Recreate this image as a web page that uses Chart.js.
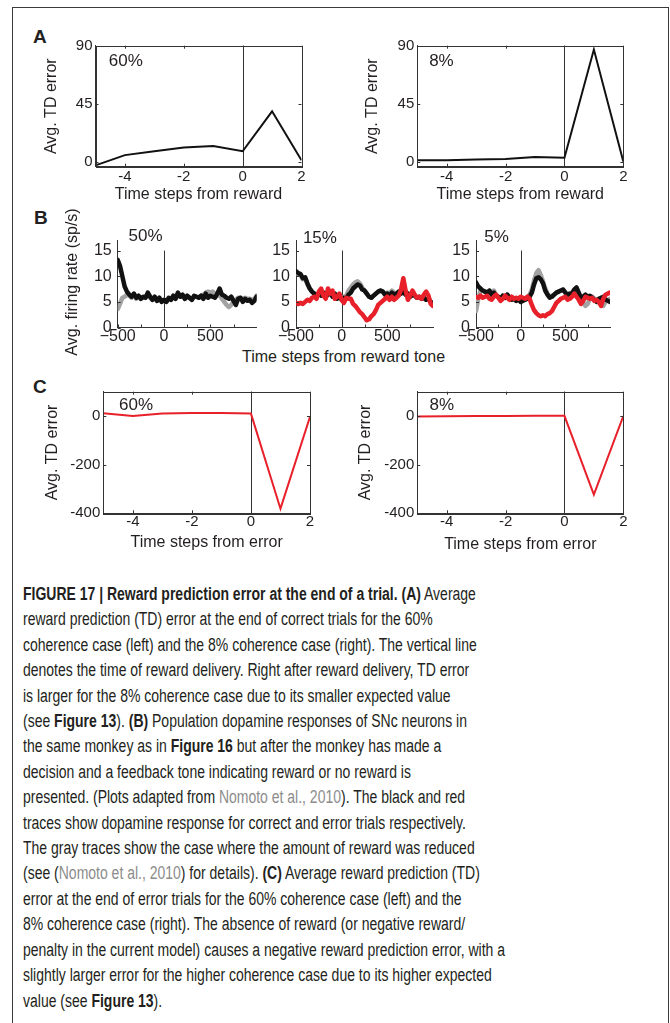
<!DOCTYPE html>
<html>
<head>
<meta charset="utf-8">
<script src="https://cdn.jsdelivr.net/npm/chart.js@4.4.1/dist/chart.umd.min.js"></script>
<style>
    html, body { margin: 0; padding: 0; background: #fff; }
    body { width: 670px; height: 1023px; position: relative; overflow: hidden; font-family: "Liberation Sans", Arial, sans-serif; color: #231f20; }
    .frame { position: absolute; left: 12px; top: 7px; width: 655px; height: 1100px; border: 1px solid #3a3a3a; border-bottom: none; }
    canvas { position: absolute; }
    .letter { position: absolute; font-weight: bold; font-size: 19px; line-height: 19px; }
    .axis-note { position: absolute; font-size: 16px; line-height: 18px; text-align: center; white-space: nowrap; }
    .axis-note.rot { transform: rotate(-90deg); transform-origin: 50% 50%; }
    #caption { position: absolute; left: 23px; top: 582px; transform-origin: 0 0; font-family: "Liberation Sans", Arial, sans-serif; font-size: 18px; line-height: 25.4px; color: #231f20; }
    #caption div { white-space: nowrap; width: max-content; }
    #caption b { font-weight: bold; }
    #caption .ref { color: #8c8c8c; }
</style>
</head>
<body>
<div class="frame"></div>

<div class="letter" style="left:33px;top:27px;">A</div>
<div class="letter" style="left:34px;top:208px;">B</div>
<div class="letter" style="left:33px;top:377px;">C</div>

<canvas id="tdCorrect60"></canvas>
<canvas id="tdCorrect8"></canvas>
<canvas id="dopa50"></canvas>
<canvas id="dopa15"></canvas>
<canvas id="dopa5"></canvas>
<canvas id="tdError60"></canvas>
<canvas id="tdError8"></canvas>

<div class="axis-note rot" style="left:-18px;top:273px;width:180px;">Avg. firing rate (sp/s)</div>
<div class="axis-note" style="left:242px;top:348px;width:200px;">Time steps from reward tone</div>

<div id="caption">
    <div><b>FIGURE 17 | Reward prediction error at the end of a trial. (A)</b> Average</div>
    <div>reward prediction (TD) error at the end of correct trials for the 60%</div>
    <div>coherence case (left) and the 8% coherence case (right). The vertical line</div>
    <div>denotes the time of reward delivery. Right after reward delivery, TD error</div>
    <div>is larger for the 8% coherence case due to its smaller expected value</div>
    <div>(see <b>Figure 13</b>). <b>(B)</b> Population dopamine responses of SNc neurons in</div>
    <div>the same monkey as in <b>Figure 16</b> but after the monkey has made a</div>
    <div>decision and a feedback tone indicating reward or no reward is</div>
    <div>presented. (Plots adapted from <span class="ref">Nomoto et al., 2010</span>). The black and red</div>
    <div>traces show dopamine response for correct and error trials respectively.</div>
    <div>The gray traces show the case where the amount of reward was reduced</div>
    <div>(see (<span class="ref">Nomoto et al., 2010</span>) for details). <b>(C)</b> Average reward prediction (TD)</div>
    <div>error at the end of error trials for the 60% coherence case (left) and the</div>
    <div>8% coherence case (right). The absence of reward (or negative reward/</div>
    <div id="widestLine">penalty in the current model) causes a negative reward prediction error, with a</div>
    <div>slightly larger error for the higher coherence case due to its higher expected</div>
    <div>value (see <b>Figure 13</b>).</div>
</div>

<script>
    // model TD error, time steps around reward / error
    const tdSteps = [-5, -4, -3, -2, -1, 0, 1, 2];
    const tdCorrect60 = [-3, 5, 8, 11, 12, 8, 39, 1];
    const tdCorrect8 = [1, 1, 1.5, 2, 3.5, 3, 87, 0];
    const tdError60 = [11, 0, 10, 12, 12, 10, -381, -3];
    const tdError8 = [-2, -1, 0, 0, 1, 1, -323, 0];

    const tdTicksX = [-4, -2, 0, 2];
    const tdTicksYCorrect = [0, 45, 90];
    const tdTicksYError = [-400, -200, 0];

    // dopamine firing rate (sp/s), time steps from reward tone
    const toneTime = [
        -500, -475, -450, -425, -400, -375, -350, -325, -300, -275,
        -250, -225, -200, -175, -150, -125, -100, -75, -50, -25,
        0, 25, 50, 75, 100, 125, 150, 175, 200, 225,
        250, 275, 300, 325, 350, 375, 400, 425, 450, 475,
        500, 525, 550, 575, 600, 625, 650, 675, 700, 725,
        750, 775, 800, 825, 850, 875, 900, 925, 950, 975,
        1000
    ];
    const coh50Correct = [
        13.2, 12.0, 10.0, 8.0, 7.0, 6.4, 6.0, 6.6, 5.8, 6.2,
        5.6, 6.0, 5.8, 6.8, 6.0, 5.4, 6.0, 5.2, 5.8, 5.0,
        5.4, 5.0, 5.8, 5.4, 6.2, 5.6, 6.8, 6.0, 6.4, 5.6,
        6.2, 5.8, 5.4, 6.2, 6.0, 5.8, 6.2, 5.6, 6.6, 5.8,
        6.2, 6.0, 5.8, 6.6, 7.6, 6.4, 6.2, 5.8, 5.6, 6.0,
        5.2, 4.4, 5.6, 5.8, 5.0, 5.6, 5.2, 5.4, 4.8, 5.2,
        6.0
    ];
    const coh50Reduced = [
        3.6, 4.6, 5.8, 6.0, 6.4, 6.2, 5.8, 6.4, 5.6, 6.0,
        5.6, 5.8, 5.8, 6.6, 5.8, 5.4, 5.8, 5.2, 5.6, 5.0,
        5.4, 5.0, 5.6, 5.4, 6.0, 5.6, 6.6, 6.0, 6.2, 5.6,
        6.0, 5.8, 5.4, 6.0, 6.0, 5.8, 6.2, 6.4, 6.8, 7.0,
        6.8, 7.0, 6.6, 6.2, 6.4, 5.6, 5.0, 4.4, 4.0, 4.4,
        5.0, 5.4, 5.8, 5.8, 5.6, 5.8, 5.6, 5.6, 5.4, 5.6,
        6.2
    ];
    const coh15Correct = [
        11.0, 10.6, 10.4, 9.6, 9.8, 8.6, 7.6, 7.0, 6.6, 6.4,
        6.6, 6.2, 6.8, 6.0, 6.4, 6.8, 6.0, 6.6, 5.6, 6.2,
        5.4, 5.8, 5.6, 6.4, 6.8, 7.6, 8.0, 8.4, 8.2, 7.4,
        7.2, 6.6, 6.0, 5.8, 6.2, 6.6, 7.0, 7.2, 7.0, 6.4,
        6.6, 6.2, 6.8, 6.4, 6.6, 7.0, 6.6, 7.0, 6.4, 6.6,
        6.0, 6.4, 6.2, 5.8, 6.0, 5.6, 5.8, 5.4, 5.6, 5.0,
        4.8
    ];
    const coh15Reduced = [
        10.8, 10.4, 10.2, 9.4, 9.6, 8.4, 7.6, 7.0, 6.6, 6.4,
        6.6, 6.2, 6.8, 6.0, 6.4, 6.8, 6.0, 6.6, 5.6, 6.2,
        5.6, 6.0, 6.2, 7.2, 7.8, 8.4, 8.8, 9.0, 8.6, 7.8,
        7.2, 6.6, 6.0, 5.8, 6.2, 6.6, 7.0, 7.2, 7.0, 6.4,
        6.8, 6.6, 7.2, 6.8, 6.6, 7.0, 6.6, 7.0, 6.4, 6.6,
        6.0, 6.4, 6.2, 5.8, 6.0, 5.6, 5.8, 5.4, 5.6, 5.0,
        4.8
    ];
    const coh15Error = [
        4.8, 4.6, 4.8, 4.6, 5.0, 5.4, 5.2, 5.8, 6.0, 5.6,
        7.0, 7.6, 6.2, 5.6, 7.6, 6.6, 7.2, 5.6, 6.0, 6.6,
        5.4, 4.8, 5.8, 5.6, 5.6, 4.6, 4.2, 3.6, 3.0, 2.6,
        2.0, 1.4, 1.6, 2.2, 2.6, 3.4, 4.4, 4.8, 5.2, 5.6,
        6.0, 5.4, 6.0, 5.4, 5.8, 6.2, 7.4, 9.6, 7.2, 5.4,
        6.2, 7.2, 6.4, 5.8, 6.0, 5.6, 6.4, 7.0, 6.2, 4.6,
        4.2
    ];
    const coh5Correct = [
        8.8, 8.0, 7.6, 7.2, 7.0, 6.8, 7.2, 6.4, 6.8, 6.2,
        6.0, 5.6, 6.2, 5.8, 6.4, 5.8, 5.4, 5.6, 5.2, 5.6,
        5.0, 5.2, 5.4, 5.6, 6.0, 6.8, 8.4, 9.6, 9.8, 9.4,
        8.6, 7.2, 6.4, 5.8, 6.0, 6.4, 6.8, 7.0, 7.2, 7.4,
        6.8, 6.4, 6.6, 6.6, 7.4, 7.8, 6.8, 5.8, 6.0, 6.4,
        6.0, 6.2, 5.8, 5.4, 5.0, 5.6, 5.8, 6.0, 5.4, 5.2,
        5.0
    ];
    const coh5Reduced = [
        3.2, 5.6, 7.2, 7.2, 7.0, 6.8, 7.2, 6.6, 7.2, 6.2,
        6.0, 5.6, 6.2, 5.8, 6.4, 5.8, 5.4, 5.6, 5.2, 5.6,
        5.0, 5.2, 5.4, 5.8, 6.4, 7.4, 9.2, 10.6, 11.2, 10.2,
        9.0, 7.6, 6.6, 6.0, 6.2, 6.4, 6.8, 7.0, 7.2, 7.4,
        6.8, 6.4, 6.6, 6.8, 7.4, 7.6, 6.4, 5.4, 4.8, 4.2,
        4.6, 5.6, 6.0, 5.6, 5.4, 5.0, 4.4, 4.2, 5.0, 5.4,
        5.6
    ];
    const coh5Error = [
        6.0, 5.8, 6.2, 5.8, 6.0, 6.2, 5.6, 5.4, 6.0, 6.4,
        5.8, 5.2, 5.6, 6.2, 5.8, 5.4, 6.0, 5.6, 5.8, 5.6,
        6.0, 5.8, 5.6, 6.0, 5.6, 4.4, 3.4, 2.8, 2.4, 2.2,
        2.4, 2.2, 2.6, 2.8, 3.2, 4.0, 4.8, 5.2, 5.6, 5.8,
        6.0, 5.4, 5.6, 6.0, 6.6, 6.0, 5.4, 4.6, 5.2, 6.0,
        5.8, 5.6, 5.8, 5.2, 5.4, 5.0, 4.2, 5.6, 6.4, 6.6,
        6.8
    ];

    const toneTicksX = [-500, -250, 0, 250, 500, 750];
    const toneLabelsX = [-500, 0, 500];
    const toneTicksY = [0, 5, 10, 15];

    const INK = '#231f20';
    const AXIS = '#333333';
    const GRAY = '#a3a3a3';
    const RED = '#e8202a';

    Chart.defaults.font.family = '"Liberation Sans", Arial, sans-serif';
    Chart.defaults.color = INK;

    const pairs = (xs, ys) => xs.map((x, i) => ({ x, y: ys[i] }));

    // matlab-ish decorations: inward ticks, closed box, reference line, corner label
    const panelDecor = {
        id: 'panelDecor',
        beforeDatasetsDraw(chart, args, o) {
            if (o.zeroTop === undefined) return;
            const { ctx, chartArea: a, scales: { x, y } } = chart;
            const px = Math.round(x.getPixelForValue(0)) + 0.5;
            ctx.save();
            ctx.strokeStyle = AXIS;
            ctx.lineWidth = 1;
            ctx.beginPath();
            ctx.moveTo(px, a.bottom);
            ctx.lineTo(px, o.zeroTop === null ? a.top : y.getPixelForValue(o.zeroTop));
            ctx.stroke();
            ctx.restore();
        },
        afterDraw(chart, args, o) {
            const { ctx, chartArea: a, scales: { x, y } } = chart;
            const len = o.tickLen || 3;
            ctx.save();
            ctx.strokeStyle = AXIS;
            ctx.lineWidth = 1;
            if (o.box) ctx.strokeRect(Math.round(a.left) + 0.5, Math.round(a.top) + 0.5, Math.round(a.right - a.left), Math.round(a.bottom - a.top));
            ctx.beginPath();
            (o.xTicks || []).forEach((v) => {
                const px = Math.round(x.getPixelForValue(v)) + 0.5;
                ctx.moveTo(px, a.bottom); ctx.lineTo(px, a.bottom - len);
                if (o.box) { ctx.moveTo(px, a.top); ctx.lineTo(px, a.top + len); }
            });
            (o.yTicks || []).forEach((v) => {
                const py = Math.round(y.getPixelForValue(v)) + 0.5;
                ctx.moveTo(a.left, py); ctx.lineTo(a.left + len, py);
                if (o.box) { ctx.moveTo(a.right, py); ctx.lineTo(a.right - len, py); }
            });
            ctx.stroke();
            if (o.label) {
                ctx.fillStyle = INK;
                ctx.font = '17px "Liberation Sans", Arial, sans-serif';
                ctx.textAlign = 'center';
                ctx.textBaseline = 'middle';
                ctx.fillText(o.label.text, x.getPixelForValue(o.label.x), y.getPixelForValue(o.label.y));
            }
            ctx.restore();
        }
    };

    function makePanel(id, cfg) {
        const canvas = document.getElementById(id);
        const { box, plot } = cfg;
        canvas.style.left = box.x + 'px';
        canvas.style.top = box.y + 'px';
        canvas.width = box.w;
        canvas.height = box.h;
        canvas.style.width = box.w + 'px';
        canvas.style.height = box.h + 'px';
        const yWidth = plot.l - box.x;
        const xHeight = box.y + box.h - plot.b;
        const xTitle = cfg.xTitle ? { display: true, text: cfg.xTitle.text, font: { size: 16 }, color: INK, padding: { top: 0, bottom: cfg.xTitle.pad } } : { display: false };
        const yTitle = cfg.yTitle ? { display: true, text: cfg.yTitle.text, font: { size: 16 }, color: INK, padding: { top: cfg.yTitle.pad, bottom: 0 } } : { display: false };
        return new Chart(canvas, {
            type: 'line',
            data: { datasets: cfg.datasets },
            options: {
                responsive: false,
                animation: false,
                devicePixelRatio: 1,
                layout: { padding: { left: 0, top: plot.t - box.y, right: box.x + box.w - plot.r, bottom: 0 } },
                elements: { point: { radius: 0 }, line: { tension: 0 } },
                plugins: { legend: { display: false }, tooltip: { enabled: false }, panelDecor: cfg.decor },
                scales: {
                    x: {
                        type: 'linear', min: cfg.xRange[0], max: cfg.xRange[1],
                        afterFit: (s) => { s.height = xHeight; },
                        afterBuildTicks: (s) => { s.ticks = cfg.xTicks.map((value) => ({ value })); },
                        grid: { display: false, drawTicks: false },
                        border: { display: true, color: AXIS, width: 1 },
                        ticks: { autoSkip: false, maxRotation: 0, padding: cfg.xPad, font: { size: cfg.tickSize, lineHeight: 1.05 }, color: INK, callback: cfg.xLabel },
                        title: xTitle
                    },
                    y: {
                        type: 'linear', min: cfg.yRange[0], max: cfg.yRange[1],
                        afterFit: (s) => { s.width = yWidth; },
                        afterBuildTicks: (s) => { s.ticks = cfg.yTicks.map((value) => ({ value })); },
                        grid: { display: false, drawTicks: false },
                        border: { display: true, color: AXIS, width: 1 },
                        ticks: { autoSkip: false, padding: cfg.yPad, font: { size: cfg.tickSize }, color: INK, callback: (v) => String(v).replace('-', cfg.minus) },
                        title: yTitle
                    }
                }
            },
            plugins: [panelDecor]
        });
    }

    // chart.js paints dataset 0 last, so the list goes top trace first
    const tdLine = (values, color) => ({ data: pairs(tdSteps, values), borderColor: color, borderWidth: 2, fill: false });
    const toneLine = (values, color) => ({ data: pairs(toneTime, values), borderColor: color, borderWidth: 4.5, borderJoinStyle: 'round', borderCapStyle: 'round', fill: false });
    const tdXLabel = (v) => String(v);
    const toneXLabel = (v) => (toneLabelsX.includes(v) ? String(v).replace('-', '\u2212') : '');

    // (A) correct trials
    makePanel('tdCorrect60', {
        box: { x: 30, y: 30, w: 290, h: 175 }, plot: { l: 95.5, t: 45.7, r: 301.5, b: 166.7 },
        xRange: [-5, 2], yRange: [-4, 90], xTicks: tdTicksX, yTicks: tdTicksYCorrect,
        tickSize: 15, xPad: 2, yPad: 3, minus: '-', xLabel: tdXLabel,
        xTitle: { text: 'Time steps from reward', pad: 1 }, yTitle: { text: 'Avg. TD error', pad: 12 },
        datasets: [tdLine(tdCorrect60, '#111111')],
        decor: { box: true, zeroTop: null, xTicks: tdTicksX, yTicks: tdTicksYCorrect, label: { text: '60%', x: -3.97, y: 77.6 } }
    });
    makePanel('tdCorrect8', {
        box: { x: 352, y: 30, w: 290, h: 175 }, plot: { l: 417.3, t: 45.7, r: 623.3, b: 166.7 },
        xRange: [-5, 2], yRange: [-4, 90], xTicks: tdTicksX, yTicks: tdTicksYCorrect,
        tickSize: 15, xPad: 2, yPad: 3, minus: '-', xLabel: tdXLabel,
        xTitle: { text: 'Time steps from reward', pad: 1 }, yTitle: { text: 'Avg. TD error', pad: 11 },
        datasets: [tdLine(tdCorrect8, '#111111')],
        decor: { box: true, zeroTop: null, xTicks: tdTicksX, yTicks: tdTicksYCorrect, label: { text: '8%', x: -4.18, y: 77.6 } }
    });

    // (B) dopamine responses
    makePanel('dopa50', {
        box: { x: 55, y: 220, w: 207, h: 125 }, plot: { l: 117.7, t: 240.3, r: 256.7, b: 327.5 },
        xRange: [-500, 1000], yRange: [0, 17], xTicks: toneTicksX, yTicks: toneTicksY,
        tickSize: 16, xPad: 1, yPad: 6, minus: '\u2212', xLabel: toneXLabel,
        datasets: [toneLine(coh50Correct, '#111111'), toneLine(coh50Reduced, GRAY)],
        decor: { box: false, zeroTop: 15, xTicks: toneTicksX, yTicks: toneTicksY, label: { text: '50%', x: -200, y: 17.7 } }
    });
    makePanel('dopa15', {
        box: { x: 262, y: 220, w: 178, h: 125 }, plot: { l: 296, t: 240.3, r: 433, b: 327.5 },
        xRange: [-500, 1000], yRange: [0, 17], xTicks: toneTicksX, yTicks: toneTicksY,
        tickSize: 16, xPad: 1, yPad: 6, minus: '\u2212', xLabel: toneXLabel,
        datasets: [toneLine(coh15Error, RED), toneLine(coh15Correct, '#111111'), toneLine(coh15Reduced, GRAY)],
        decor: { box: false, zeroTop: 15, xTicks: toneTicksX, yTicks: toneTicksY, label: { text: '15%', x: -238, y: 17.4 } }
    });
    makePanel('dopa5', {
        box: { x: 440, y: 220, w: 180, h: 125 }, plot: { l: 476, t: 240.3, r: 610, b: 327.5 },
        xRange: [-500, 1000], yRange: [0, 17], xTicks: toneTicksX, yTicks: toneTicksY,
        tickSize: 16, xPad: 1, yPad: 6, minus: '\u2212', xLabel: toneXLabel,
        datasets: [toneLine(coh5Error, RED), toneLine(coh5Correct, '#111111'), toneLine(coh5Reduced, GRAY)],
        decor: { box: false, zeroTop: 15, xTicks: toneTicksX, yTicks: toneTicksY, label: { text: '5%', x: -269, y: 17.6 } }
    });

    // (C) error trials
    makePanel('tdError60', {
        box: { x: 30, y: 378, w: 295, h: 177 }, plot: { l: 103.3, t: 391.7, r: 310, b: 513.3 },
        xRange: [-5, 2], yRange: [-400, 100], xTicks: tdTicksX, yTicks: tdTicksYError,
        tickSize: 15, xPad: 1, yPad: 3, minus: '-', xLabel: tdXLabel,
        xTitle: { text: 'Time steps from error', pad: 3 }, yTitle: { text: 'Avg. TD error', pad: 12.7 },
        datasets: [tdLine(tdError60, RED)],
        decor: { box: true, zeroTop: null, xTicks: tdTicksX, yTicks: tdTicksYError, label: { text: '60%', x: -3.89, y: 42 } }
    });
    makePanel('tdError8', {
        box: { x: 345, y: 378, w: 295, h: 177 }, plot: { l: 417.3, t: 391.7, r: 623.3, b: 513.3 },
        xRange: [-5, 2], yRange: [-400, 100], xTicks: tdTicksX, yTicks: tdTicksYError,
        tickSize: 15, xPad: 1, yPad: 3, minus: '-', xLabel: tdXLabel,
        xTitle: { text: 'Time steps from error', pad: 1 }, yTitle: { text: 'Avg. TD error', pad: 11 },
        datasets: [tdLine(tdError8, RED)],
        decor: { box: true, zeroTop: null, xTicks: tdTicksX, yTicks: tdTicksYError, label: { text: '8%', x: -4.17, y: 45 } }
    });

    // squeeze the caption to the narrow column width of the original
    const widest = document.getElementById('widestLine').getBoundingClientRect().width;
    if (widest > 0) document.getElementById('caption').style.transform = `scaleX(${(482 / widest).toFixed(4)})`;
</script>
</body>
</html>
